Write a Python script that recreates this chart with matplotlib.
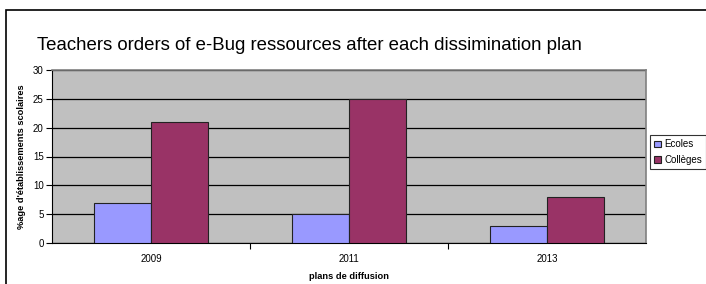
import numpy as np
import matplotlib.pyplot as plt
from matplotlib.patches import Rectangle

years = ['2009', '2011', '2013']
ecoles = [7, 5, 3]
colleges = [21, 25, 8]

plt.rcParams['font.family'] = 'Liberation Sans'

fig = plt.figure(figsize=(7.06, 2.84), dpi=100)
# outer chart frame (left and top edges visible)
fig.patches.append(Rectangle((6 / 706, -0.1), 1.2, (284 - 10) / 284 + 0.1,
                             transform=fig.transFigure, fill=False,
                             edgecolor='black', linewidth=1.2))

ax = fig.add_axes([52 / 706, (284 - 243) / 284, (646 - 52) / 706, (243 - 70) / 284])
ax.set_facecolor('#C0C0C0')

x = np.arange(len(years))
w = 0.288
ax.bar(x - w / 2, ecoles, w, color='#9999FF', edgecolor='#222222', linewidth=0.8,
       label='Ecoles', zorder=3)
ax.bar(x + w / 2, colleges, w, color='#993366', edgecolor='#222222', linewidth=0.8,
       label='Collèges', zorder=3)

ax.set_xlim(-0.5, 2.5)
ax.set_ylim(0, 30)
ax.set_yticks(range(0, 31, 5))
ax.yaxis.grid(True, color='black', linewidth=0.9, zorder=1)
ax.set_axisbelow(True)
ax.set_xticks([0.5, 1.5])
ax.set_xticklabels([])
ax.set_xticks(x, minor=True)
ax.set_xticklabels(years, minor=True)
ax.tick_params(axis='x', which='major', length=4, direction='out', color='black')
ax.tick_params(axis='x', which='minor', length=0, pad=8, labelsize=7)
ax.tick_params(axis='y', length=4, direction='out', labelsize=7, pad=2)

for s in ['top', 'right']:
    ax.spines[s].set_color('#808080')
    ax.spines[s].set_linewidth(1.2)
ax.spines['left'].set_color('black')
ax.spines['bottom'].set_color('black')

ax.set_ylabel("%age d'établissements scolaires", fontsize=6.7, fontweight='bold', labelpad=5)
ax.set_xlabel('plans de diffusion', fontsize=6.7, fontweight='bold', labelpad=6)

fig.text(37 / 706, 1 - 45 / 284, 'Teachers orders of e-Bug ressources after each dissimination plan',
         fontsize=13.4, va='center', ha='left')

leg = fig.legend(loc='upper left', bbox_to_anchor=(650 / 706, 1 - 135 / 284),
                 fontsize=7, frameon=True, fancybox=False, edgecolor='black',
                 handlelength=0.7, handleheight=0.7, handletextpad=0.3,
                 borderpad=0.45, labelspacing=0.55, borderaxespad=0)
leg.get_frame().set_linewidth(0.8)

fig.savefig('out.png', dpi=100)
